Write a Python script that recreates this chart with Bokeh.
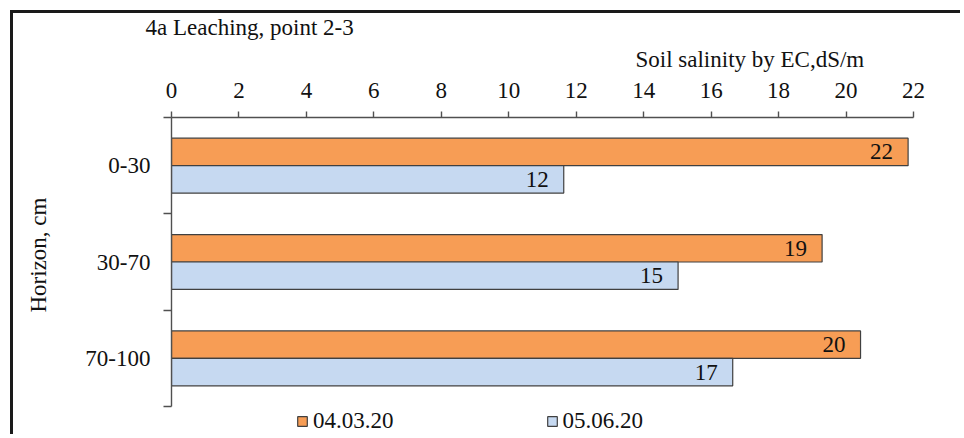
from bokeh.plotting import figure
from bokeh.models import (Range1d, FixedTicker, ColumnDataSource, LabelSet, Title,
                          Legend, LegendItem, LinearAxis)
from bokeh.embed import file_html
from bokeh.resources import INLINE
from bokeh.core.properties import value

# ---- data ----
horizons = ["0-30", "30-70", "70-100"]
series_names = ["04.03.20", "05.06.20"]
ec_0403 = [21.84, 19.29, 20.43]
ec_0506 = [11.63, 15.02, 16.64]
x_ticks = [0, 2, 4, 6, 8, 10, 12, 14, 16, 18, 20, 22]
title_text = "4a Leaching,  point 2-3"
x_label = "Soil salinity by EC,dS/m"
y_label = "Horizon, cm"

# ---- style ----
FONT = "Liberation Serif"
FS = "23px"
ORANGE = "#F79D55"
BLUE = "#C6D9F1"
EDGE = "#404040"
AXIS = "#505050"
TXT = "#111111"
OX, OY = 13, 13          # page offset of the figure canvas (margin + border)
W, H = 950, 424
FRAME_TOP, CAT_BOTTOM = 117 - OY, 406 - OY   # canvas pixels
n_cat = len(horizons)
px_per_cat = (CAT_BOTTOM - FRAME_TOP) / n_cat
y_bottom = n_cat + (H - CAT_BOTTOM) / px_per_cat   # frame extends to canvas bottom (room for legend)

p = figure(width=W, height=H, output_backend="svg", toolbar_location=None,
           x_axis_location="above",
           x_range=Range1d(0, 22), y_range=Range1d(y_bottom, 0),
           min_border_left=171 - OX, min_border_right=W - (913 - OX),
           min_border_top=FRAME_TOP, min_border_bottom=0,
           margin=(10, 0, 0, 10))
p.styles = {"border-top": "3px solid #1a1a1a", "border-left": "3px solid #1a1a1a"}
p.grid.visible = False
p.outline_line_color = None
p.background_fill_color = "white"
p.border_fill_color = "white"

centers = [i + 0.5 for i in range(n_cat)]
bar_h = 0.285

src1 = ColumnDataSource(dict(y=[c - bar_h / 2 for c in centers], x=ec_0403,
                             label=[str(round(v)) for v in ec_0403]))
src2 = ColumnDataSource(dict(y=[c + bar_h / 2 for c in centers], x=ec_0506,
                             label=[str(round(v)) for v in ec_0506]))

r1 = p.hbar(y="y", right="x", left=0, height=bar_h, fill_color=ORANGE,
            line_color=EDGE, line_width=1.2, source=src1)
r2 = p.hbar(y="y", right="x", left=0, height=bar_h, fill_color=BLUE,
            line_color=EDGE, line_width=1.2, source=src2)

for src in (src1, src2):
    p.add_layout(LabelSet(x="x", y="y", text="label", source=src, x_offset=-15,
                          text_align="right", text_baseline="middle",
                          text_font=value(FONT), text_font_size=value(FS),
                          text_color=TXT))

# x axis (top)
xa = p.xaxis[0]
xa.ticker = FixedTicker(ticks=x_ticks)
xa.major_tick_out = 6
xa.major_tick_in = 0
xa.minor_tick_line_color = None
xa.axis_line_color = AXIS
xa.axis_line_width = 1.4
xa.major_tick_line_color = AXIS
xa.major_tick_line_width = 1.4
xa.major_label_text_font = FONT
xa.major_label_text_font_size = FS
xa.major_label_text_color = TXT
xa.major_label_standoff = 14

# y axis (left)
ya = p.yaxis[0]
ya.bounds = (0, n_cat)
ya.ticker = FixedTicker(ticks=centers, minor_ticks=list(range(n_cat + 1)))
ya.major_label_overrides = {c: h for c, h in zip(centers, horizons)}
ya.major_tick_line_color = None
ya.major_tick_out = 8
ya.major_tick_in = 0
ya.minor_tick_out = 8
ya.minor_tick_in = 0
ya.minor_tick_line_color = AXIS
ya.minor_tick_line_width = 1.4
ya.axis_line_color = AXIS
ya.axis_line_width = 1.4
ya.major_label_text_font = FONT
ya.major_label_text_font_size = FS
ya.major_label_text_color = TXT
ya.major_label_standoff = 13

# blank spacer between the tick labels and the vertical title
spacer = LinearAxis(ticker=FixedTicker(ticks=[centers[1]]), major_tick_out=32, major_tick_in=0,
                    axis_line_color=None, major_tick_line_color="white",
                    minor_tick_line_color=None, major_label_standoff=0,
                    major_label_overrides={centers[1]: ""})
p.add_layout(spacer, "left")

# y-axis title (left panel)
p.add_layout(Title(text=y_label, align="left", offset=(H + OY) - 312, standoff=0,
                   text_font=FONT, text_font_size=FS, text_font_style="normal",
                   text_color=TXT), "left")

# titles above the axis
p.add_layout(Title(text=x_label, align="left", offset=635 - 171, standoff=16,
                   text_font=FONT, text_font_size=FS, text_font_style="normal",
                   text_color=TXT), "above")
p.title.text = title_text
p.title.align = "left"
p.title.offset = 145 - 171
p.title.standoff = -6
p.title.text_font = FONT
p.title.text_font_size = FS
p.title.text_font_style = "normal"
p.title.text_color = TXT

# legend (inside the extended frame, below the last category)
legend = Legend(items=[LegendItem(label=series_names[0], renderers=[r1]),
                       LegendItem(label=series_names[1], renderers=[r2])],
                orientation="horizontal", location=(296 - 171, 3), spacing=152,
                glyph_width=12, glyph_height=12, label_standoff=5, padding=1, margin=0,
                border_line_color=None, background_fill_alpha=0,
                label_text_font=FONT, label_text_font_size=FS, label_text_color=TXT,
                label_height=20)
p.add_layout(legend, "center")

open("out.html", "w").write(file_html(p, INLINE))
